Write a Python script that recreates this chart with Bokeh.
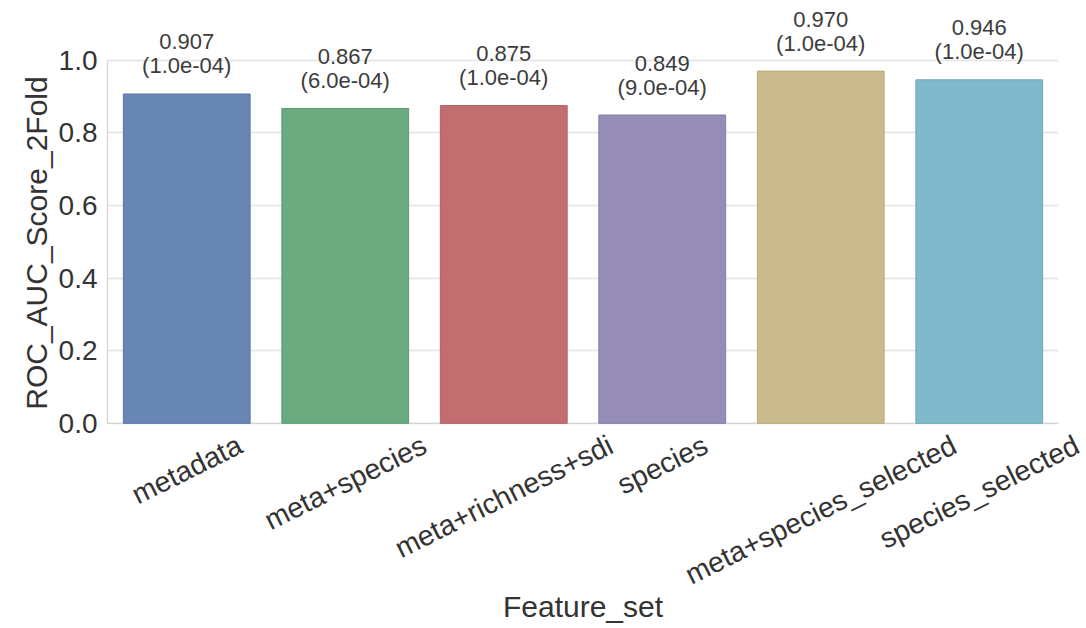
from math import radians, sin

from bokeh.core.properties import value
from bokeh.embed import file_html
from bokeh.models import (BoxAnnotation, ColumnDataSource, FixedTicker, LabelSet,
                          PrintfTickFormatter, Range1d, Span, Title)
from bokeh.plotting import figure
from bokeh.resources import INLINE

# ---------------- data ----------------
feature_sets = ["metadata", "meta+species", "meta+richness+sdi", "species",
                "meta+species_selected", "species_selected"]
scores = [0.907, 0.867, 0.875, 0.849, 0.970, 0.946]
score_errs = [1.0e-4, 6.0e-4, 1.0e-4, 9.0e-4, 1.0e-4, 1.0e-4]
y_ticks = [0.0, 0.2, 0.4, 0.6, 0.8, 1.0]

# ---------------- style / layout ----------------
fill_colors = ["#6886B4", "#6BAA7F", "#C26E70", "#958CB8", "#CABB8C", "#7FB9CB"]
line_colors = ["#5a77a5", "#5e9a70", "#b06063", "#857ba9", "#b9aa7c", "#70a9bb"]

FONT = "Liberation Sans"
TEXT = "#333333"
SPINE = "#d4d4d4"
GRID = "#e4e4e4"
YTICK_PX = 28
XLAB_PX = 28.5
VAL_PX = 22
TITLE_PX = 30
ANGLE = radians(26.5)

W, H = 1084, 624
AX_L, AX_R = 107, 1058               # x extent of the axes box (px)
FRAME_T, FRAME_B = 2, 588            # frame (incl. room for annotations)
Y0_PX, Y1_PX = 425, 60               # pixel rows of y=0 and y=1
PX_PER_UNIT = Y0_PX - Y1_PX
SLOT_PX = (AX_R - AX_L) / len(feature_sets)
y_start = -(FRAME_B - Y0_PX) / PX_PER_UNIT
y_end = (Y0_PX - FRAME_T) / PX_PER_UNIT
x_end = (W - AX_L) / SLOT_PX

# Arial / Liberation Sans advance widths (em) for laying out centred rotated text
ARIAL_W = {
    "a": .556, "b": .556, "c": .5, "d": .556, "e": .556, "f": .278, "g": .556,
    "h": .556, "i": .222, "j": .222, "k": .5, "l": .222, "m": .833, "n": .556,
    "o": .556, "p": .556, "q": .556, "r": .333, "s": .5, "t": .278, "u": .556,
    "v": .5, "w": .722, "x": .5, "y": .5, "z": .5, "+": .584, "_": .556,
    "R": .722, "O": .778, "C": .722, "A": .667, "U": .722, "S": .667, "F": .611,
    "2": .556,
}


def text_width(s, px):
    return sum(ARIAL_W.get(c, 0.556) for c in s) * px


slot_x = [i + 0.5 for i in range(len(feature_sets))]
label_dy = [-(19.5 + text_width(s, XLAB_PX) * sin(ANGLE) / 2) for s in feature_sets]

src = ColumnDataSource(dict(
    x=slot_x,
    name=feature_sets,
    top=scores,
    fill=fill_colors,
    line=line_colors,
    score_txt=[f"{v:.3f}" for v in scores],
    err_txt=[f"({e:.1e})" for e in score_errs],
    zero=[0.0] * len(feature_sets),
    lab_dy=label_dy,
))

p = figure(
    x_range=Range1d(0, x_end),
    y_range=Range1d(y_start, y_end),
    width=W, height=H,
    output_backend="svg", toolbar_location=None,
    min_border_left=AX_L, min_border_right=0,
    min_border_top=FRAME_T, min_border_bottom=H - FRAME_B,
)
p.outline_line_color = None
p.background_fill_color = "white"
p.border_fill_color = "white"

p.xgrid.visible = False
p.ygrid.ticker = FixedTicker(ticks=y_ticks)
p.ygrid.grid_line_color = GRID
p.ygrid.grid_line_width = 1.3

# bottom spine at y = 0
p.add_layout(Span(location=0, dimension="width", line_color=SPINE,
                  line_width=1.3, level="underlay"))
# blank out grid/spine to the right of the last category
p.add_layout(BoxAnnotation(left=len(feature_sets), fill_color="white", fill_alpha=1.0,
                           line_color=None, level="glyph"))

p.vbar(x="x", top="top", bottom=0, width=0.8, source=src,
       fill_color="fill", line_color="line", line_width=1)

# value annotations above bars
p.add_layout(LabelSet(x="x", y="top", text="score_txt", source=src,
                      y_offset=52, text_align="center", text_baseline="middle",
                      text_font=value(FONT), text_font_size=f"{VAL_PX}px",
                      text_color="#3c3c3c"))
p.add_layout(LabelSet(x="x", y="top", text="err_txt", source=src,
                      y_offset=28, text_align="center", text_baseline="middle",
                      text_font=value(FONT), text_font_size=f"{VAL_PX}px",
                      text_color="#3c3c3c"))

# rotated, centred category labels
p.add_layout(LabelSet(x="x", y="zero", text="name", source=src,
                      y_offset="lab_dy", angle=ANGLE,
                      text_align="center", text_baseline="middle",
                      text_font=value(FONT), text_font_size=f"{XLAB_PX}px",
                      text_color=TEXT))

# y axis (spine only over 0..1)
p.yaxis.bounds = (0, 1)
p.yaxis.ticker = FixedTicker(ticks=y_ticks)
p.yaxis.formatter = PrintfTickFormatter(format="%.1f")
p.yaxis.major_tick_line_color = None
p.yaxis.minor_tick_line_color = None
p.yaxis.major_tick_out = 0
p.yaxis.major_tick_in = 0
p.yaxis.major_label_standoff = 10
p.yaxis.major_label_text_font = FONT
p.yaxis.major_label_text_font_size = f"{YTICK_PX}px"
p.yaxis.major_label_text_color = TEXT
p.yaxis.axis_line_color = SPINE
p.yaxis.axis_line_width = 1.3

# y axis title, centred on the 0..1 span
ytitle = "ROC_AUC_Score_2Fold"
ytitle_top = (Y0_PX + Y1_PX) / 2 - text_width(ytitle, TITLE_PX) / 2
p.add_layout(Title(text=ytitle, align="right", offset=ytitle_top - FRAME_T, standoff=6,
                   text_font=FONT, text_font_size=f"{TITLE_PX}px",
                   text_font_style="normal", text_color=TEXT), "left")

# x axis title, centred under the axes box
p.xaxis.visible = False
xtitle = "Feature_set"
xtitle_left = (AX_L + AX_R) / 2 - text_width(xtitle, TITLE_PX) / 2
p.add_layout(Title(text=xtitle, align="left", offset=xtitle_left - AX_L, standoff=4,
                   text_font=FONT, text_font_size=f"{TITLE_PX}px",
                   text_font_style="normal", text_color=TEXT), "below")

open("out.html", "w").write(file_html(p, INLINE))
